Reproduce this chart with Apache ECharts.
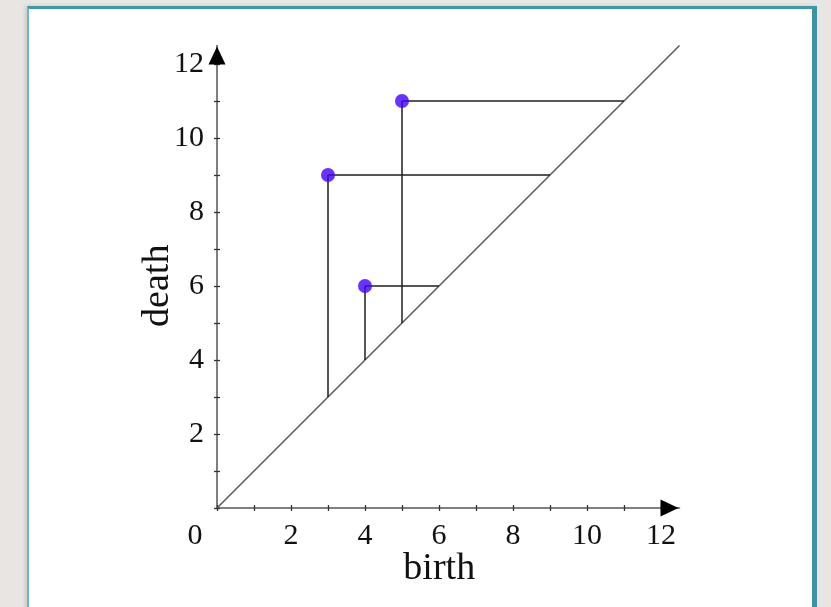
<!DOCTYPE html>
<html>
<head>
<meta charset="utf-8">
<script src="https://cdn.jsdelivr.net/npm/echarts@6/dist/echarts.min.js"></script>
<style>
  html, body { margin:0; padding:0; }
  body { width:831px; height:607px; background:#e8e6e2; position:relative; overflow:hidden; }
  #paper { position:absolute; left:27px; top:6px; width:783px; height:620px; background:#ffffff;
           border-top:3px solid #3f98aa; border-right:5px solid #3a93a6; border-left:2px solid #6fb4c2;
           box-shadow:-2px 0 4px rgba(0,0,0,0.12); }
  #chart { position:absolute; left:0; top:0; width:831px; height:607px; }
</style>
</head>
<body>
<div id="paper"></div>
<div id="chart"></div>
<script>
// Persistence diagram data
const births = [3, 4, 5];
const deaths = [9, 6, 11];
const axisMax = 12.5;
const diagonalEnds = [0, 12.5];
const tickValues = [0, 1, 2, 3, 4, 5, 6, 7, 8, 9, 10, 11, 12];
const xTickLabels = [0, 2, 4, 6, 8, 10, 12];
const yTickLabels = [2, 4, 6, 8, 10, 12];
const xName = 'birth';
const yName = 'death';

const font = '"Liberation Serif", "DejaVu Serif", serif';

const segSeries = [];
births.forEach((b, i) => {
  const d = deaths[i];
  segSeries.push({
    type: 'line', data: [[b, d], [b, b]], symbol: 'none', silent: true,
    lineStyle: { color: '#1e1e1e', width: 1.5 }, z: 2
  });
  segSeries.push({
    type: 'line', data: [[b, d], [d, d]], symbol: 'none', silent: true,
    lineStyle: { color: '#1e1e1e', width: 1.5 }, z: 2
  });
});

const tickStyle = { color: '#333', width: 1.3 };
// secondary axes: only the crossing half of each tick plus the black arrow head
const arrowLine = { show: true, onZero: true, onZeroAxisIndex: 0,
  lineStyle: { color: '#000', width: 0 },
  symbol: ['none', 'triangle'], symbolSize: [17, 18], symbolOffset: [0, -10] };

const chart = echarts.init(document.getElementById('chart'), null, { renderer: 'canvas' });
chart.setOption({
  backgroundColor: 'transparent',
  animation: false,
  grid: { left: 217, right: 151.5, top: 45.5, bottom: 99, containLabel: false, outerBoundsMode: 'none' },
  xAxis: [{
    type: 'value', min: 0, max: axisMax, position: 'bottom',
    name: xName, nameLocation: 'middle', nameGap: 42, nameMoveOverlap: false,
    nameTextStyle: { fontFamily: font, fontSize: 38, color: '#111', padding: [0, 18, 0, 0] },
    splitLine: { show: false },
    axisLine: { show: true, lineStyle: { color: '#555', width: 1.5 }, symbol: 'none' },
    axisTick: { show: true, length: 3, customValues: tickValues, lineStyle: tickStyle },
    axisLabel: {
      margin: 13, fontFamily: font, fontSize: 30, color: '#111',
      customValues: xTickLabels,
      formatter: v => (v === 0 ? '{z|0}' : String(v)),
      rich: { z: { fontFamily: font, fontSize: 30, color: '#111', padding: [0, 44, 0, 0] } }
    }
  }, {
    type: 'value', min: 0, max: axisMax, position: 'top', offset: 0,
    axisLine: arrowLine, splitLine: { show: false }, axisLabel: { show: false },
    axisTick: { show: true, inside: false, length: 3, customValues: tickValues, lineStyle: tickStyle }
  }],
  yAxis: [{
    type: 'value', min: 0, max: axisMax, position: 'left',
    name: yName, nameLocation: 'middle', nameGap: 40, nameRotate: 90, nameMoveOverlap: false,
    nameTextStyle: { fontFamily: font, fontSize: 38, color: '#111', padding: [0, 18, 0, 0] },
    splitLine: { show: false },
    axisLine: { show: true, lineStyle: { color: '#555', width: 1.5 }, symbol: 'none' },
    axisTick: { show: true, length: 3, customValues: tickValues, lineStyle: tickStyle },
    axisLabel: {
      margin: 13, fontFamily: font, fontSize: 30, color: '#111',
      customValues: yTickLabels,
      formatter: v => String(v)
    }
  }, {
    type: 'value', min: 0, max: axisMax, position: 'right', offset: 0,
    axisLine: arrowLine, splitLine: { show: false }, axisLabel: { show: false },
    axisTick: { show: true, inside: false, length: 3, customValues: tickValues, lineStyle: tickStyle }
  }],
  series: [
    {
      type: 'line', data: diagonalEnds.map(v => [v, v]), symbol: 'none', silent: true,
      lineStyle: { color: '#555', width: 1.5 }, z: 1
    },
    ...segSeries,
    {
      type: 'scatter', data: births.map((b, i) => [b, deaths[i]]), symbol: 'circle', symbolSize: 14,
      itemStyle: { color: '#4000ff' }, z: 5
    }
  ]
});
</script>
</body>
</html>
